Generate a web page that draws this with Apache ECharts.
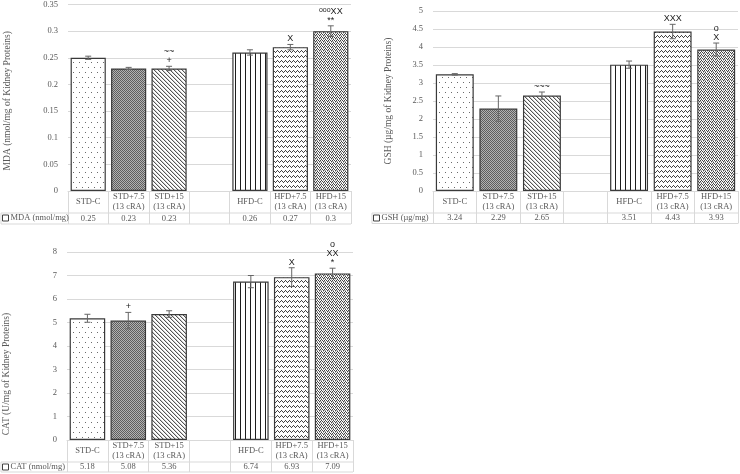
<!DOCTYPE html>
<html>
<head>
<meta charset="utf-8">
<script src="https://cdn.jsdelivr.net/npm/echarts@6/dist/echarts.min.js"></script>
<style>html,body{margin:0;padding:0;background:#fff}#c{width:740px;height:474px}</style>
</head>
<body>
<div id="c"></div>
<script>
// ---------- data ----------
const categories = ['STD-C', 'STD+7.5\n(13 cRA)', 'STD+15\n(13 cRA)', '', 'HFD-C', 'HFD+7.5\n(13 cRA)', 'HFD+15\n(13 cRA)'];

const mdaValues = [0.25, 0.23, 0.23, null, 0.26, 0.27, 0.30];
const mdaErrors = [0.003, 0.002, 0.004, null, 0.005, 0.005, 0.010];
const mdaMarks  = ['', '', '~~\n+', '', '', 'X', '{s|ooo}XX\n**'];
const mdaTicks  = { min: 0, max: 0.35, interval: 0.05 };

const gshValues = [3.24, 2.29, 2.65, null, 3.51, 4.43, 3.93];
const gshErrors = [0.02, 0.35, 0.10, null, 0.10, 0.20, 0.18];
const gshMarks  = ['', '', '~~~', '', '', 'XXX', 'o\nX'];
const gshTicks  = { min: 0, max: 5, interval: 0.5 };

const catValues = [5.18, 5.08, 5.36, null, 6.74, 6.93, 7.09];
const catErrors = [0.17, 0.35, 0.14, null, 0.26, 0.40, 0.22];
const catMarks  = ['', '+', '', '', '', 'X', 'o\nXX\n*'];
const catTicks  = { min: 0, max: 8, interval: 1 };

const seriesNames = ['MDA (nmol/mg)', 'GSH (\u00b5g/mg)', 'CAT (nmol/mg)'];
const axisTitles = ['MDA (nmol/mg of Kidney Proteins)', 'GSH (\u00b5g/mg of Kidney Proteins)', 'CAT (U/mg of Kidney Proteins)'];

// ---------- patterns ----------
function pat(w, h, draw) {
  const c = document.createElement('canvas');
  c.width = w; c.height = h;
  const g = c.getContext('2d');
  g.fillStyle = '#fff'; g.fillRect(0, 0, w, h);
  draw(g);
  return { image: c, repeat: 'repeat' };
}
function px(g, col, pts) { g.fillStyle = col; pts.forEach(p => g.fillRect(p[0], p[1], 1, 1)); }
const patterns = [
  pat(6, 10, g => px(g, '#6a6a6a', [[1, 2], [4, 7]])),
  pat(2, 2, g => { g.fillStyle = '#b2b2b2'; g.fillRect(0, 0, 2, 2); px(g, '#5e5e5e', [[0, 0], [1, 1]]); }),
  pat(4, 4, g => { px(g, '#555555', [[0, 0], [1, 1], [2, 2], [3, 3]]); px(g, '#d0d0d0', [[1, 0], [2, 1], [3, 2], [0, 3]]); }),
  null,
  pat(5, 1, g => px(g, '#1e1e1e', [[0, 0]])),
  pat(4, 5, g => px(g, '#444444', [[0, 1], [1, 0], [2, 1], [3, 2]])),
  pat(4, 3, g => { px(g, '#444444', [[0, 1], [1, 0], [2, 1], [3, 2]]); px(g, '#b4b4b4', [[1, 2], [3, 0], [0, 2]]); })
];

// ---------- layout ----------
const panels = [
  { name: seriesNames[0], title: axisTitles[0], values: mdaValues, errors: mdaErrors, marks: mdaMarks, ticks: mdaTicks,
    left: 68, right: 351, top: 3.3, axisY: 191, row1: 213, row2: 224, lx: 1, nameGap: 56, namePad: 6 },
  { name: seriesNames[1], title: axisTitles[1], values: gshValues, errors: gshErrors, marks: gshMarks, ticks: gshTicks,
    left: 433, right: 738, top: 11, axisY: 191, row1: 213, row2: 223.5, lx: 372, nameGap: 40, namePad: 0 },
  { name: seriesNames[2], title: axisTitles[2], values: catValues, errors: catErrors, marks: catMarks, ticks: catTicks,
    left: 66, right: 353, top: 252, axisY: 440, row1: 462, row2: 472, lx: 1, nameGap: 56, namePad: 56 }
];

const SERIF = '"Liberation Serif", "Times New Roman", serif';
const TXT = '#595959';
const LINE = '#d9d9d9';

const option = { animation: false, backgroundColor: '#fff', grid: [], xAxis: [], yAxis: [], series: [], legend: [], graphic: [] };

panels.forEach((p, k) => {
  option.grid.push({ left: p.left, width: p.right - p.left, top: p.top, height: p.axisY - p.top, containLabel: false });
  option.xAxis.push({
    type: 'category', gridIndex: k, data: categories,
    axisLine: { show: true, lineStyle: { color: LINE, width: 1 } },
    axisTick: { show: true, interval: 0, length: p.row2 - p.axisY, lineStyle: { color: LINE } },
    axisLabel: { interval: 0, margin: (p.row1 - p.axisY) / 2, verticalAlign: 'middle', lineHeight: 10,
      fontFamily: SERIF, fontSize: 8.5, color: TXT }
  });
  option.xAxis.push({
    type: 'category', gridIndex: k, position: 'bottom', offset: p.row1 - p.axisY,
    data: p.values.map(v => v == null ? '' : String(v)),
    axisLine: { show: false }, axisTick: { show: false },
    axisLabel: { interval: 0, margin: (p.row2 - p.row1) / 2, verticalAlign: 'middle',
      fontFamily: SERIF, fontSize: 8.5, color: TXT }
  });
  option.yAxis.push({
    type: 'value', gridIndex: k, min: p.ticks.min, max: p.ticks.max, interval: p.ticks.interval,
    axisLine: { show: false }, axisTick: { show: false },
    splitLine: { lineStyle: { color: LINE, width: 1 } },
    axisLabel: { margin: 10, fontFamily: SERIF, fontSize: 8.5, color: TXT },
    name: p.title, nameLocation: 'middle', nameGap: p.nameGap,
    nameTextStyle: { fontFamily: SERIF, fontSize: 9.5, color: TXT, padding: [0, p.namePad, 0, 0] }
  });
  option.series.push({
    type: 'bar', name: p.name, xAxisIndex: 2 * k, yAxisIndex: k, barCategoryGap: '13%',
    data: p.values.map((v, i) => v == null ? null : ({ value: v, itemStyle: { color: patterns[i] } })),
    itemStyle: { borderColor: '#3a3a3a', borderWidth: 1.2 }
  });
  option.series.push({
    type: 'custom', xAxisIndex: 2 * k, yAxisIndex: k, z: 5,
    data: p.values.map((v, i) => [i, v, p.errors[i]]).filter(d => d[1] != null),
    renderItem: (params, api) => {
      const i = api.value(0), v = api.value(1), e = api.value(2);
      const t = api.coord([i, v + e]), b = api.coord([i, v - e]);
      const x = t[0], c = 3, col = '#666';
      const ch = [
        { type: 'line', shape: { x1: x, y1: t[1], x2: x, y2: b[1] }, style: { stroke: col, lineWidth: 1 } },
        { type: 'line', shape: { x1: x - c, y1: t[1], x2: x + c, y2: t[1] }, style: { stroke: col, lineWidth: 1 } },
        { type: 'line', shape: { x1: x - c, y1: b[1], x2: x + c, y2: b[1] }, style: { stroke: col, lineWidth: 1 } }
      ];
      const m = p.marks[i];
      if (m) {
        ch.push({ type: 'text', x: x, y: t[1] - 1,
          style: { text: m, align: 'center', verticalAlign: 'bottom', fill: '#1a1a1a',
            fontFamily: '"Liberation Sans", Arial, sans-serif', fontSize: 9, lineHeight: 9,
            rich: { s: { fontSize: 7, verticalAlign: 'top', fill: '#1a1a1a', fontFamily: '"Liberation Sans", Arial, sans-serif' } } } });
      }
      return { type: 'group', children: ch };
    }
  });
  option.legend.push({
    data: [p.name], left: p.lx + 1, top: p.row1 + 0.5, padding: 0, selectedMode: false,
    icon: 'rect', itemWidth: 6, itemHeight: 6,
    itemStyle: { color: '#fff', borderColor: '#404040', borderWidth: 1 },
    textStyle: { fontFamily: SERIF, fontSize: 8.5, color: TXT, padding: [0, 0, 0, -3] }
  });
  const ls = { stroke: LINE, lineWidth: 1 };
  option.graphic.push(
    { type: 'line', shape: { x1: p.lx, y1: p.row1, x2: p.right, y2: p.row1 }, style: ls, silent: true },
    { type: 'line', shape: { x1: p.lx, y1: p.row2, x2: p.right, y2: p.row2 }, style: ls, silent: true },
    { type: 'line', shape: { x1: p.lx, y1: p.row1, x2: p.lx, y2: p.row2 }, style: ls, silent: true }
  );
});

const chart = echarts.init(document.getElementById('c'), null, { renderer: 'canvas' });
chart.setOption(option);
</script>
</body>
</html>
